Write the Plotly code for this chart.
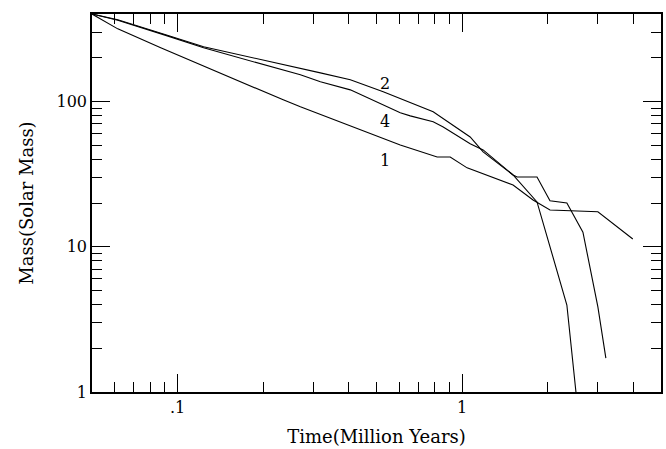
import plotly.graph_objects as go
import math

# Mass of the most massive star vs. time, for three runs (1, 2, 4)
time_1 = [0.05, 0.0616, 0.0872, 0.166, 0.235, 0.270, 0.606, 0.817, 0.908, 1.041,
          1.51, 1.775, 2.036, 3.0, 3.98]
mass_1 = [400, 316, 234, 136, 102.6, 91.8, 50.2, 41.5, 41.5, 34.9,
          26.6, 21.0, 17.9, 17.4, 11.3]

time_2 = [0.05, 0.0616, 0.0908, 0.1234, 0.3175, 0.4045, 0.528, 0.791, 1.067,
          1.185, 1.51, 1.833, 2.334, 2.512]
mass_2 = [400, 365, 287.5, 237.7, 157.4, 140.9, 116.5, 84.8, 57.0,
          45.0, 31.2, 20.35, 3.97, 1.0]

time_4 = [0.05, 0.0616, 0.0908, 0.1234, 0.270, 0.3175, 0.4045, 0.606, 0.657,
          0.791, 0.858, 1.067, 1.185, 1.51, 1.56, 1.833, 2.036, 2.334, 2.658,
          3.0, 3.2]
mass_4 = [400, 362, 285, 234, 152.5, 136.5, 120.2, 83.5, 79.6,
          72.4, 66.8, 51.1, 46.4, 31.2, 30.2, 30.2, 20.7, 20.0, 12.6,
          3.85, 1.71]

x_tickvals = [0.1, 1]
x_ticktext = [".1", "1"]
y_tickvals = [1, 10, 100]
y_ticktext = ["1", "10", "100"]

FONT = "DejaVu Serif"
line_style = dict(color="black", width=1.1)

fig = go.Figure()
for t, m in [(time_1, mass_1), (time_2, mass_2), (time_4, mass_4)]:
    fig.add_trace(go.Scatter(x=t, y=m, mode="lines", line=line_style,
                             showlegend=False, hoverinfo="skip"))

# curve labels
for txt, xv, yv in [("2", 0.537, 134), ("4", 0.537, 72.4), ("1", 0.537, 39.0)]:
    fig.add_annotation(x=math.log10(xv), y=math.log10(yv), text=txt,
                       showarrow=False, font=dict(family=FONT, size=16, color="black"))

x_minor = [d * 10 ** e for e in (-2, -1, 0) for d in range(2, 10)]
y_minor = [d * 10 ** e for e in (0, 1, 2) for d in range(2, 10)]

axis_common = dict(
    type="log", showgrid=False, zeroline=False,
    showline=True, linecolor="black", linewidth=1.5, mirror="ticks",
    ticks="inside", ticklen=18, tickwidth=1.2, tickcolor="black",
    tickmode="array",
    tickfont=dict(family=FONT, size=16, color="black"),
)

fig.update_xaxes(
    **axis_common,
    range=[math.log10(0.05), math.log10(5)],
    tickvals=x_tickvals, ticktext=x_ticktext,
    minor=dict(tickmode="array", tickvals=x_minor, ticks="inside",
               ticklen=10, tickwidth=1.1, tickcolor="black", showgrid=False),
    title=dict(text="Time(Million Years)", font=dict(family=FONT, size=18, color="black"),
               standoff=14),
)
fig.update_yaxes(
    **axis_common,
    range=[0, math.log10(400)],
    tickvals=y_tickvals, ticktext=y_ticktext,
    minor=dict(tickmode="array", tickvals=y_minor, ticks="inside",
               ticklen=10, tickwidth=1.1, tickcolor="black", showgrid=False),
    title=dict(text="Mass(Solar Mass)", font=dict(family=FONT, size=18, color="black"),
               standoff=18),
)

fig.update_layout(
    width=666, height=449,
    margin=dict(l=92, r=3, t=14, b=57),
    paper_bgcolor="white", plot_bgcolor="white",
)

fig.write_html("out.html")
